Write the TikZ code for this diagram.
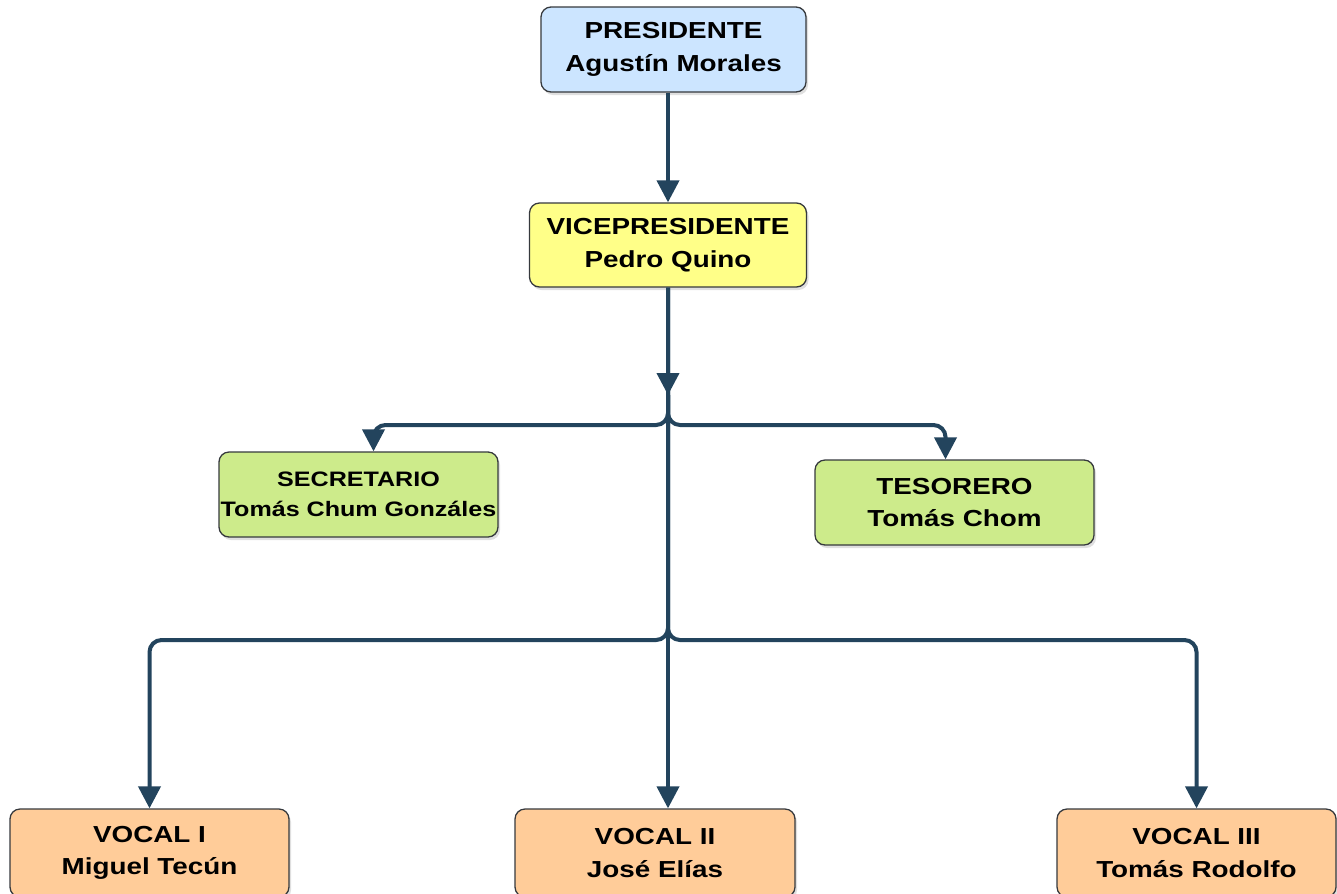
\documentclass[tikz,border=0pt]{standalone}
\usepackage{fontspec}
\setmainfont[FakeStretch=1.2]{Liberation Sans}
\usetikzlibrary{arrows.meta,shadows}

\newlength\pxu
\setlength\pxu{0.02cm}
\definecolor{linkblue}{HTML}{23445D}
\definecolor{boxline}{HTML}{36393D}
\definecolor{presfill}{HTML}{CCE5FF}
\definecolor{vicefill}{HTML}{FFFF88}
\definecolor{greenfill}{HTML}{CDEB8B}
\definecolor{vocalfill}{HTML}{FFCC99}

\tikzset{
  box/.style={draw=boxline, line width=1.3\pxu, rounded corners=10\pxu,
    align=center, inner sep=0pt, minimum width=279\pxu, minimum height=85\pxu,
    font=\bfseries\fontsize{13.2}{18.5}\selectfont,
    drop shadow={shadow xshift=2\pxu, shadow yshift=-3\pxu, opacity=0.25}},
  smalltext/.style={font=\bfseries\fontsize{11.9}{17}\selectfont},
  link/.style={draw=linkblue, line width=4\pxu, rounded corners=12\pxu,
    -{Triangle[length=0.44cm,width=0.44cm]}},
}

\begin{document}
\begin{tikzpicture}[x=0.02cm, y=-0.02cm]
  \useasboundingbox (0,0) rectangle (1337,893);

  % people
  \node[box, fill=presfill, minimum width=265\pxu] (pres) at (673.5,49.5) {PRESIDENTE\\Agustín Morales};
  \node[box, fill=vicefill, minimum width=277\pxu, minimum height=84\pxu] (vice) at (668,245) {VICEPRESIDENTE\\Pedro Quino};
  \node[box, smalltext, fill=greenfill] (sec) at (358.5,494.5) {SECRETARIO\\Tomás Chum Gonzáles};
  \node[box, fill=greenfill] (tes) at (954.5,502.5) {TESORERO\\Tomás Chom};
  \node[box, fill=vocalfill, minimum height=88\pxu] (voc1) at (149.5,853) {VOCAL I\\Miguel Tecún};
  \node[box, fill=vocalfill, minimum width=280\pxu, minimum height=88\pxu] (voc2) at (655,853) {VOCAL II\\José Elías};
  \node[box, fill=vocalfill, minimum height=88\pxu] (voc3) at (1196.5,853) {VOCAL III\\Tomás Rodolfo};

  \coordinate (j1) at (668,395);
  \coordinate (j2) at (668,640);

  % connectors
  \draw[link] (vice.south) -- (j2) -| (voc1);
  \draw[link] (vice.south) -- (j2) -| (voc3);
  \draw[link] (vice.south) -- (vice.south |- voc2.north);
  \draw[link] (pres.south -| vice.south) -- (vice.north);
  \draw[link] (vice.south) -- (j1);
  \draw[link] (j1) -- ++(0,30) -| ([xshift=15\pxu]sec.north);
  \draw[link] (j1) -- ++(0,30) -| ([xshift=-9\pxu]tes.north);
\end{tikzpicture}
\end{document}
